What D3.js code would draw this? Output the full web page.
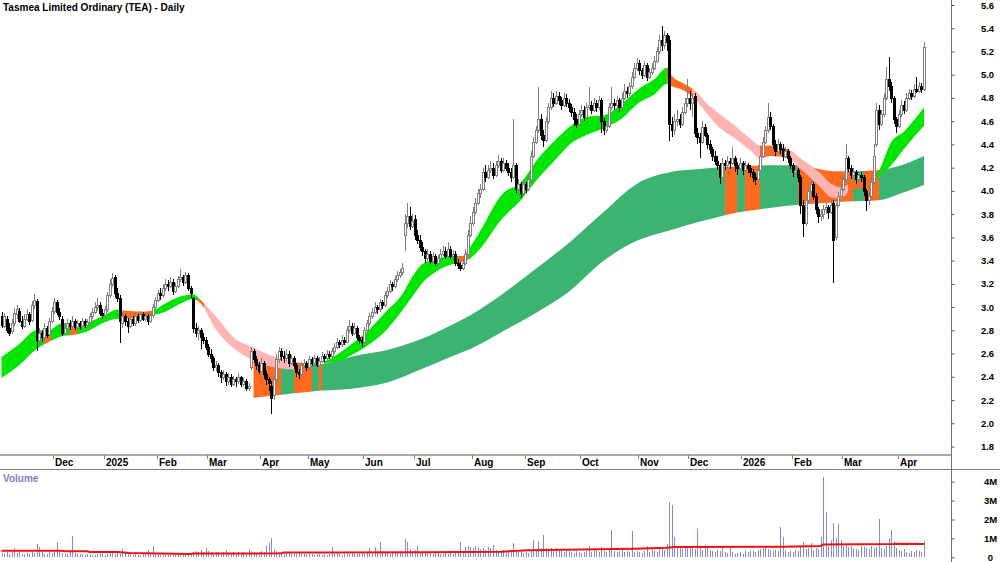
<!DOCTYPE html>
<html><head><meta charset="utf-8">
<script src="https://cdn.jsdelivr.net/npm/d3@7/dist/d3.min.js"></script>
<style>
html,body{margin:0;padding:0;background:#fff;}
svg{display:block;font-family:"Liberation Sans",Arial,sans-serif;}
</style></head><body>
<svg id="chart" width="1000" height="562"></svg>
<script>
// ---------- DATA ----------
const title = "Tasmea Limited Ordinary (TEA) - Daily";
// trading days per month, Nov 2024 .. Apr 2026
const monthDays = [21,20,21,20,21,19,22,20,23,21,22,23,20,21,20,20,22,11];
const monthLabels = ["Dec","2025","Feb","Mar","Apr","May","Jun","Jul","Aug","Sep","Oct","Nov","Dec","2026","Feb","Mar","Apr"];
const priceTicks = [1.8,2.0,2.2,2.4,2.6,2.8,3.0,3.2,3.4,3.6,3.8,4.0,4.2,4.4,4.6,4.8,5.0,5.2,5.4,5.6];
const volTicks = [0,1,2,3,4];
const volTickLabels = ["0","1M","2M","3M","4M"];

const open = [
// Nov 24
2.92,2.84,2.90,2.82,2.79,2.86,2.94,2.97,2.88,2.84,2.90,2.94,2.89,3.02,3.05,2.72,2.78,2.74,2.82,2.77,2.88,
// Dec 24
2.97,3.04,2.96,2.90,2.78,2.82,2.86,2.84,2.88,2.83,2.86,2.84,2.88,2.85,2.87,2.92,2.96,3.00,3.02,2.95,
// Jan 25
2.93,2.98,3.10,3.20,3.26,3.12,3.08,2.86,2.92,2.88,2.84,2.90,2.86,2.92,2.89,2.94,2.90,2.92,2.88,2.93,3.00,
// Feb 25
3.06,3.12,3.10,3.16,3.20,3.18,3.22,3.14,3.18,3.24,3.26,3.22,3.28,3.16,3.08,2.82,2.78,2.80,2.74,2.72,
// Mar 25
2.66,2.60,2.56,2.48,2.50,2.44,2.40,2.42,2.36,2.40,2.34,2.38,2.36,2.40,2.34,2.36,2.30,2.48,2.62,2.55,2.50,
// Apr 25
2.45,2.52,2.42,2.38,2.32,2.24,2.38,2.55,2.62,2.58,2.56,2.60,2.52,2.56,2.50,2.44,2.42,2.50,2.52,
// May 25
2.48,2.55,2.52,2.56,2.50,2.54,2.58,2.56,2.60,2.58,2.62,2.66,2.70,2.68,2.72,2.70,2.80,2.84,2.78,2.82,2.74,2.72,
// Jun 25
2.70,2.80,2.86,2.92,2.96,3.00,2.98,3.04,3.02,3.10,3.14,3.20,3.18,3.24,3.28,3.30,3.62,3.72,3.78,3.70,
// Jul 25
3.76,3.62,3.58,3.52,3.48,3.42,3.46,3.40,3.44,3.38,3.42,3.46,3.48,3.44,3.50,3.44,3.46,3.38,3.36,3.34,3.38,3.46,3.62,
// Aug 25
3.72,3.82,3.90,3.98,4.02,4.16,4.12,4.18,4.20,4.14,4.22,4.26,4.18,4.24,4.20,4.16,4.12,4.22,4.02,4.06,3.98,
// Sep 25
4.06,4.02,4.10,4.30,4.42,4.52,4.62,4.48,4.44,4.60,4.72,4.80,4.76,4.82,4.78,4.74,4.80,4.76,4.72,4.68,4.62,4.58,
// Oct 25
4.66,4.70,4.64,4.72,4.74,4.70,4.76,4.72,4.78,4.60,4.52,4.56,4.72,4.76,4.74,4.78,4.72,4.80,4.86,4.84,4.90,4.98,5.06,
// Nov 25
5.10,5.04,5.00,5.08,4.98,5.02,5.06,5.12,5.20,5.30,5.26,5.34,5.30,4.58,4.52,4.60,4.62,4.58,4.68,4.76,
// Dec 25
4.80,4.76,4.82,4.50,4.46,4.42,4.55,4.48,4.40,4.36,4.30,4.26,4.22,4.12,4.24,4.22,4.26,4.24,4.28,4.22,4.20,
// Jan 26
4.24,4.18,4.22,4.20,4.16,4.12,4.10,4.18,4.30,4.42,4.52,4.64,4.56,4.40,4.34,4.40,4.36,4.30,4.34,4.28,
// Feb 26
4.22,4.16,4.18,4.12,3.88,3.72,3.92,4.00,4.06,3.96,3.84,3.78,3.80,3.84,3.86,3.82,3.90,3.60,3.88,3.96,
// Mar 26
4.02,4.10,4.28,4.20,4.14,4.16,4.10,4.14,4.12,4.00,3.92,3.96,4.08,4.40,4.70,4.58,4.66,4.80,4.96,4.90,4.80,4.62,
// Apr 26
4.56,4.66,4.74,4.70,4.80,4.84,4.82,4.88,4.86,4.90,4.88
];
const high = [
2.96,2.95,2.92,2.86,2.90,2.99,3.02,2.99,2.92,2.94,2.98,2.96,3.05,3.11,3.07,2.82,2.80,2.86,2.84,2.91,3.00,
3.08,3.06,2.99,2.92,2.86,2.90,2.89,2.92,2.90,2.89,2.88,2.91,2.90,2.90,2.95,2.99,3.04,3.08,3.04,2.98,
3.01,3.13,3.24,3.29,3.28,3.16,3.10,2.96,2.94,2.91,2.93,2.92,2.95,2.94,2.97,2.96,2.95,2.94,2.96,3.03,3.09,
3.15,3.16,3.20,3.24,3.23,3.26,3.24,3.21,3.27,3.33,3.28,3.30,3.29,3.18,3.09,2.86,2.84,2.82,2.78,2.74,
2.68,2.64,2.58,2.54,2.52,2.46,2.46,2.44,2.43,2.42,2.41,2.40,2.43,2.41,2.39,2.38,2.35,2.66,2.64,2.58,2.53,
2.56,2.54,2.45,2.40,2.36,2.42,2.60,2.66,2.65,2.62,2.64,2.62,2.59,2.58,2.52,2.47,2.53,2.55,2.54,
2.58,2.57,2.59,2.58,2.57,2.61,2.60,2.63,2.62,2.65,2.69,2.73,2.72,2.76,2.74,2.84,2.89,2.86,2.86,2.84,2.76,2.74,
2.83,2.89,2.95,2.99,3.04,3.02,3.07,3.06,3.13,3.17,3.23,3.22,3.27,3.31,3.33,3.38,3.80,3.90,3.86,3.80,
3.79,3.66,3.62,3.56,3.50,3.50,3.48,3.47,3.46,3.45,3.50,3.53,3.52,3.56,3.53,3.49,3.48,3.41,3.39,3.42,3.50,3.66,3.78,
3.86,3.94,4.02,4.06,4.20,4.22,4.22,4.26,4.24,4.26,4.31,4.28,4.28,4.27,4.24,4.20,4.62,4.24,4.10,4.08,4.10,
4.08,4.14,4.34,4.46,4.56,4.89,4.66,4.52,4.64,4.76,4.86,4.84,4.86,4.85,4.81,4.84,4.83,4.79,4.75,4.71,4.66,4.70,
4.74,4.73,4.76,4.89,4.77,4.80,4.78,4.82,4.80,4.63,4.60,4.76,4.89,4.79,4.82,4.80,4.84,4.92,4.89,4.94,5.02,5.10,5.14,
5.13,5.06,5.12,5.10,5.06,5.10,5.16,5.24,5.34,5.42,5.38,5.36,5.33,4.64,4.66,4.70,4.66,4.72,4.80,4.96,
4.86,4.84,4.84,4.54,4.50,4.60,4.58,4.50,4.44,4.38,4.34,4.30,4.24,4.28,4.27,4.30,4.28,4.38,4.30,4.25,4.28,
4.26,4.26,4.24,4.22,4.19,4.15,4.22,4.34,4.46,4.56,4.76,4.68,4.58,4.44,4.45,4.42,4.40,4.38,4.36,4.30,
4.24,4.22,4.20,4.14,3.92,3.96,4.04,4.10,4.08,3.98,3.86,3.84,3.88,3.90,3.88,3.92,3.92,3.90,3.99,4.06,
4.14,4.40,4.30,4.22,4.20,4.18,4.17,4.16,4.14,4.02,3.99,4.12,4.40,4.76,4.74,4.70,4.84,5.07,5.15,4.94,4.82,4.64,
4.70,4.78,4.77,4.84,4.88,4.87,4.92,4.98,4.94,4.93,5.28
];
const low = [
2.82,2.82,2.78,2.75,2.77,2.84,2.90,2.86,2.81,2.82,2.88,2.85,2.87,2.98,2.62,2.68,2.70,2.72,2.73,2.75,2.86,
2.94,2.93,2.89,2.75,2.76,2.80,2.80,2.82,2.80,2.81,2.80,2.82,2.82,2.83,2.85,2.90,2.94,2.97,2.92,2.90,
2.91,2.96,3.08,3.17,3.08,3.04,2.69,2.82,2.84,2.78,2.82,2.84,2.84,2.86,2.87,2.88,2.88,2.85,2.86,2.91,2.98,
3.04,3.06,3.08,3.14,3.14,3.16,3.10,3.12,3.16,3.22,3.18,3.20,3.14,3.08,2.78,2.74,2.72,2.64,2.68,2.63,
2.57,2.52,2.45,2.45,2.40,2.35,2.37,2.32,2.33,2.31,2.32,2.31,2.34,2.31,2.32,2.28,2.28,2.46,2.52,2.46,2.42,
2.43,2.38,2.33,2.28,2.08,2.20,2.36,2.52,2.54,2.52,2.54,2.48,2.50,2.47,2.40,2.38,2.40,2.47,2.45,
2.46,2.49,2.50,2.48,2.48,2.52,2.53,2.54,2.55,2.56,2.60,2.64,2.65,2.66,2.67,2.69,2.78,2.75,2.76,2.72,2.68,2.66,
2.68,2.78,2.84,2.90,2.94,2.94,2.96,2.98,3.00,3.08,3.12,3.14,3.16,3.22,3.25,3.28,3.48,3.68,3.66,3.68,
3.58,3.54,3.48,3.44,3.38,3.40,3.37,3.38,3.35,3.36,3.40,3.44,3.41,3.42,3.41,3.40,3.35,3.33,3.31,3.32,3.36,3.44,3.60,
3.70,3.80,3.88,3.94,4.00,4.08,4.10,4.15,4.10,4.12,4.20,4.15,4.16,4.17,4.13,4.08,4.10,3.98,3.98,3.94,3.96,
3.98,4.00,4.08,4.28,4.40,4.50,4.44,4.38,4.42,4.58,4.70,4.72,4.74,4.74,4.70,4.72,4.72,4.68,4.64,4.56,4.54,4.56,
4.64,4.60,4.62,4.70,4.66,4.68,4.68,4.70,4.50,4.48,4.50,4.54,4.70,4.70,4.72,4.68,4.70,4.78,4.80,4.82,4.88,4.96,5.03,
5.00,4.96,4.98,4.95,4.96,5.00,5.04,5.10,5.18,5.20,5.22,5.20,4.43,4.46,4.48,4.56,4.54,4.56,4.66,4.72,
4.70,4.64,4.46,4.40,4.28,4.40,4.46,4.36,4.32,4.26,4.22,4.18,4.06,4.10,4.18,4.20,4.19,4.22,4.16,4.14,4.18,
4.14,4.16,4.15,4.12,4.08,4.05,4.08,4.16,4.28,4.40,4.50,4.52,4.36,4.30,4.32,4.32,4.26,4.28,4.24,4.19,
4.12,4.12,4.08,3.80,3.60,3.70,3.90,3.96,3.92,3.80,3.72,3.74,3.76,3.80,3.76,3.80,3.21,3.58,3.86,3.94,
4.00,4.08,4.16,4.10,4.12,4.06,4.08,4.08,3.96,3.83,3.88,3.94,4.06,4.38,4.52,4.56,4.64,4.78,4.86,4.76,4.58,4.50,
4.54,4.64,4.66,4.68,4.78,4.78,4.80,4.84,4.84,4.84,4.86
];
const close = [
2.85,2.92,2.80,2.78,2.86,2.95,2.98,2.88,2.84,2.90,2.94,2.88,3.02,3.06,2.72,2.78,2.74,2.82,2.76,2.88,2.97,
3.04,2.96,2.92,2.78,2.82,2.86,2.84,2.88,2.83,2.86,2.84,2.88,2.85,2.87,2.92,2.96,3.00,3.02,2.95,2.93,
2.98,3.10,3.20,3.25,3.12,3.08,2.88,2.92,2.88,2.84,2.90,2.86,2.92,2.89,2.94,2.90,2.92,2.88,2.93,3.00,3.06,
3.12,3.10,3.16,3.20,3.18,3.22,3.14,3.18,3.24,3.26,3.22,3.28,3.16,3.12,2.82,2.78,2.80,2.74,2.72,2.66,
2.60,2.56,2.48,2.50,2.44,2.40,2.42,2.36,2.40,2.34,2.38,2.36,2.40,2.34,2.36,2.30,2.32,2.62,2.55,2.50,2.45,
2.52,2.42,2.38,2.35,2.22,2.38,2.55,2.62,2.58,2.56,2.60,2.52,2.56,2.50,2.44,2.42,2.50,2.52,2.48,
2.55,2.52,2.56,2.50,2.54,2.58,2.56,2.60,2.58,2.62,2.66,2.70,2.68,2.72,2.70,2.80,2.84,2.78,2.82,2.74,2.72,2.70,
2.80,2.86,2.92,2.96,3.00,2.98,3.04,3.02,3.10,3.14,3.20,3.18,3.24,3.28,3.30,3.34,3.72,3.78,3.70,3.74,
3.62,3.58,3.52,3.48,3.42,3.46,3.40,3.44,3.38,3.42,3.46,3.48,3.44,3.50,3.44,3.46,3.38,3.36,3.34,3.38,3.46,3.62,3.72,
3.82,3.90,3.98,4.02,4.16,4.12,4.18,4.20,4.14,4.22,4.26,4.18,4.24,4.20,4.16,4.12,4.22,4.02,4.06,3.98,4.06,
4.02,4.10,4.30,4.42,4.52,4.62,4.48,4.44,4.60,4.72,4.80,4.76,4.82,4.78,4.74,4.80,4.76,4.72,4.68,4.62,4.58,4.66,
4.70,4.64,4.72,4.74,4.70,4.76,4.72,4.78,4.60,4.52,4.56,4.72,4.76,4.74,4.78,4.72,4.80,4.86,4.84,4.90,4.98,5.06,5.10,
5.04,5.00,5.08,4.98,5.02,5.06,5.12,5.20,5.30,5.26,5.34,5.28,4.58,4.52,4.60,4.62,4.58,4.68,4.76,4.80,
4.76,4.80,4.50,4.46,4.42,4.55,4.48,4.40,4.36,4.30,4.26,4.22,4.12,4.24,4.22,4.26,4.24,4.28,4.22,4.20,4.24,
4.18,4.22,4.20,4.16,4.12,4.10,4.18,4.30,4.42,4.52,4.64,4.56,4.40,4.34,4.40,4.36,4.30,4.34,4.28,4.22,
4.16,4.18,4.12,3.88,3.72,3.92,4.00,4.06,3.96,3.84,3.78,3.80,3.84,3.86,3.82,3.88,3.58,3.88,3.96,4.02,
4.10,4.28,4.20,4.14,4.16,4.10,4.14,4.12,4.00,3.92,3.96,4.08,4.30,4.70,4.58,4.66,4.80,4.96,4.90,4.80,4.62,4.56,
4.66,4.74,4.70,4.80,4.84,4.82,4.88,4.86,4.90,4.88,5.24
];
// volume, millions
const volume = [
0.25,0.2,0.28,0.18,0.3,0.48,0.22,0.26,0.15,0.2,0.25,0.18,0.3,0.22,0.7,0.55,0.28,0.2,0.18,0.26,0.22,
0.3,0.8,0.35,0.25,0.2,0.18,0.3,1.12,0.25,0.2,0.15,0.18,0.12,0.2,0.15,0.1,0.12,0.18,0.22,0.15,
0.12,0.2,0.3,0.25,0.18,0.22,0.2,0.45,0.25,0.2,0.15,0.12,0.18,0.1,0.14,0.2,0.15,0.4,0.18,0.6,0.22,
0.15,0.12,0.18,0.1,0.14,0.12,0.16,0.1,0.13,0.15,0.12,0.1,0.14,0.2,0.3,0.35,0.28,0.4,0.3,0.5,
0.35,0.3,0.25,0.28,0.3,0.22,0.3,0.4,0.2,0.25,0.3,0.22,0.28,0.25,0.3,0.2,0.42,0.35,0.3,0.25,0.28,
0.32,0.3,0.6,0.75,1.0,0.45,0.35,0.3,0.25,0.2,0.28,0.22,0.18,0.2,0.15,0.22,0.18,0.15,0.2,
0.15,0.18,0.12,0.2,0.15,0.1,0.18,0.14,0.2,0.55,0.15,0.22,0.18,0.12,0.2,0.15,0.18,0.22,0.15,0.2,0.18,0.25,
0.2,0.25,0.5,0.3,0.55,0.4,0.8,0.35,0.3,0.25,0.2,0.28,0.3,0.22,0.35,0.3,0.95,0.8,0.45,0.35,
0.4,0.6,0.3,0.25,0.35,0.3,0.25,0.2,0.28,0.22,0.18,0.2,0.25,0.18,0.22,0.2,0.25,0.3,0.8,0.3,0.55,0.6,0.55,
0.5,0.6,0.55,0.45,0.5,0.4,0.55,0.5,0.65,0.4,0.35,0.3,0.4,0.35,0.3,0.3,0.78,0.4,0.3,0.35,0.25,
0.3,0.25,0.35,0.94,0.45,0.87,0.5,1.2,0.5,0.45,0.5,0.45,0.5,0.4,0.35,0.3,0.4,0.35,0.3,0.25,0.35,0.3,
0.25,0.3,0.35,0.58,0.3,0.4,0.35,0.3,0.55,0.35,0.3,0.4,1.47,0.35,0.3,0.35,0.4,0.3,0.35,0.3,1.4,0.3,0.35,
0.3,0.25,0.35,0.6,0.3,0.4,0.35,0.3,0.45,0.55,0.4,0.7,2.9,2.76,1.05,0.6,0.5,0.45,0.6,0.5,
0.55,0.5,0.45,1.49,0.5,0.4,0.65,0.55,0.4,0.35,0.3,0.4,0.35,0.6,0.3,0.25,0.6,0.3,0.2,0.25,0.3,
0.2,0.35,0.3,0.4,0.35,0.3,0.4,0.45,0.5,0.55,0.45,0.4,0.35,0.4,0.35,1.58,1.1,0.4,0.3,0.35,
0.3,0.4,0.35,0.55,0.8,0.45,0.5,0.75,0.4,0.5,0.45,1.05,4.25,2.4,0.6,0.9,1.82,1.0,1.75,0.9,
0.6,0.7,0.55,0.6,0.5,0.45,0.4,0.6,0.55,0.5,0.45,0.6,0.5,0.55,2.05,0.5,0.45,0.6,1.03,1.47,0.85,0.5,
0.4,0.35,0.45,0.3,0.25,0.35,0.3,0.4,0.35,0.3,0.85
];
// volume moving average (millions) read at bar indices
const volMAIdx = [0,24,25,34,35,46,51,63,75,76,111,112,132,169,198,209,230,251,264,267,311,325,326,354,355,366];
const volMA    = [0.34,0.34,0.32,0.32,0.28,0.28,0.23,0.20,0.18,0.20,0.21,0.25,0.26,0.27,0.30,0.37,0.41,0.45,0.50,0.55,0.56,0.60,0.68,0.70,0.72,0.70];

// short-term band (read at bar indices)
const shortIdx = [0,7,14,18,24,28,34,40,46,48,56,60,65,71,76,79,85,93,99,106,112,120,130,133,140,146,153,159,163,167,172,179,183,186,189,199,206,213,219,226,233,239,246,253,259,264,266,271,276,279,284,291,297,301,305,312,317,324,330,333,338,344,348,353,358,366];
const shortTop = [2.57,2.68,2.80,2.79,2.86,2.86,2.87,2.92,2.98,2.97,2.96,2.97,3.03,3.09,3.11,3.06,2.92,2.72,2.66,2.59,2.55,2.50,2.55,2.59,2.70,2.81,2.97,3.11,3.26,3.37,3.41,3.44,3.44,3.52,3.62,3.98,4.07,4.28,4.42,4.56,4.64,4.65,4.75,4.88,4.96,5.06,4.99,4.92,4.85,4.77,4.68,4.56,4.45,4.39,4.39,4.36,4.28,4.17,4.05,4.03,4.08,4.10,4.17,4.42,4.51,4.72];
const shortBot = [2.39,2.50,2.64,2.69,2.75,2.76,2.79,2.86,2.90,2.90,2.91,2.93,2.96,3.03,3.07,3.03,2.81,2.63,2.55,2.49,2.47,2.46,2.52,2.53,2.60,2.68,2.81,2.97,3.09,3.21,3.30,3.37,3.39,3.42,3.48,3.77,3.92,4.11,4.25,4.41,4.49,4.54,4.62,4.76,4.83,4.92,4.90,4.86,4.77,4.69,4.56,4.45,4.35,4.28,4.30,4.28,4.19,4.05,3.94,3.94,4.02,4.02,4.13,4.22,4.36,4.56];
const shortSegStart = [0,17,19.5,27,30,48,60,78,80.5,116,128,181,185,264,274,301,312,336,347];
const shortSegState = ["up","mixed","up","mixed","up","mixed","up","mixed","down","hidden","up","mixed","up","mixed","down","mixed","down","mixed","up"];

// long-term band
const longIdx = [100,113,126,140,153,166,179,186,198,212,225,239,252,265,278,291,304,316,330,337,348,357,366];
const longTop = [2.55,2.53,2.51,2.58,2.63,2.72,2.85,2.93,3.10,3.33,3.55,3.82,4.06,4.16,4.19,4.21,4.22,4.22,4.17,4.17,4.18,4.22,4.30];
const longBot = [2.22,2.25,2.28,2.30,2.35,2.46,2.58,2.64,2.78,2.95,3.13,3.40,3.57,3.66,3.74,3.81,3.85,3.88,3.90,3.91,3.92,3.98,4.05];
const longSegStart = [100,111,116,123,126,127,287,292,295,301,316,338,342,348];
const longSegState = ["mixed","trend","mixed","trend","mixed","trend","mixed","trend","mixed","trend","mixed","trend","mixed","trend"];

// ---------- STYLE ----------
const shortColors = {up:"#00e600", down:"#ffb4b4", mixed:"#ff6a1f", hidden:null};
const longColors = {trend:"#3cb371", mixed:"#ff6a1f"};

// ---------- DRAW ----------
const svg = d3.select("#chart");
const defs = svg.append("defs");
const N = Math.min(open.length, high.length, low.length, close.length, volume.length);
const x = d3.scaleLinear().domain([0, N - 1]).range([1.5, 924]);
const y = d3.scaleLinear().domain([1.8, 5.6]).range([446.5, 5]);
const yv = d3.scaleLinear().domain([0, 4]).range([557.3, 481.7]);
const axisX = 951.5;

svg.append("rect").attr("width",1000).attr("height",562).attr("fill","#fff");

defs.append("clipPath").attr("id","pricePane").append("rect")
  .attr("x",0).attr("y",0).attr("width",951).attr("height",454);
const pane = svg.append("g").attr("clip-path","url(#pricePane)");

function band(idx, top, bot, segStart, segState, colors, name) {
  const pts = idx.map((d,k)=>({i:d, t:top[k], b:bot[k]}));
  const area = d3.area().x(d=>x(d.i)).y0(d=>y(d.b)).y1(d=>y(d.t)).curve(d3.curveMonotoneX);
  const segs = segStart.map((s,k)=>({s, e: k < segStart.length-1 ? segStart[k+1] : N-1, state: segState[k]}));
  const g = pane.append("g");
  segs.forEach((sg,k)=>{
    const col = colors[sg.state];
    if (!col) return;
    const x0 = k === 0 ? Math.floor(x(sg.s)) - 3 : Math.round(x(sg.s));
    const x1 = k === segs.length-1 ? Math.ceil(x(sg.e)) + 2 : Math.round(x(sg.e));
    const id = name + k;
    defs.append("clipPath").attr("id", id).append("rect")
      .attr("x", x0).attr("y", 0).attr("width", x1 - x0).attr("height", 460);
    g.append("path").datum(pts).attr("d", area).attr("fill", col).attr("clip-path", `url(#${id})`);
  });
}
band(longIdx, longTop, longBot, longSegStart, longSegState, longColors, "lb");
band(shortIdx, shortTop, shortBot, shortSegStart, shortSegState, shortColors, "sb");

// candles
const cg = pane.append("g").attr("shape-rendering","crispEdges");
const cd = cg.selectAll("g").data(d3.range(N)).join("g");
const isUp = i => close[i] >= open[i];
cd.append("line")
  .attr("x1", i => Math.round(x(i)) + 0.5).attr("x2", i => Math.round(x(i)) + 0.5)
  .attr("y1", i => y(high[i])).attr("y2", i => y(low[i]))
  .attr("stroke", i => isUp(i) ? "#808080" : "#000").attr("stroke-width",1);
cd.append("rect")
  .attr("x", i => Math.round(x(i)) - 0.5)
  .attr("y", i => Math.round(y(Math.max(open[i], close[i]))) + 0.5)
  .attr("width", 2)
  .attr("height", i => Math.max(1, Math.round(y(Math.min(open[i], close[i]))) - Math.round(y(Math.max(open[i], close[i])))))
  .attr("fill", i => isUp(i) ? "#fff" : "#000")
  .attr("stroke", i => isUp(i) ? "#808080" : "#000").attr("stroke-width",1);

// volume
const vg = svg.append("g").attr("shape-rendering","crispEdges");
vg.selectAll("line").data(d3.range(N)).join("line")
  .attr("x1", i => Math.round(x(i)) + 0.5).attr("x2", i => Math.round(x(i)) + 0.5)
  .attr("y1", yv(0)).attr("y2", i => yv(volume[i]))
  .attr("stroke", "#8a8ad0").attr("stroke-width", 1);
const vmaPts = volMAIdx.map((d,k)=>[d, volMA[k]]);
svg.append("path").datum(vmaPts)
  .attr("d", d3.line().x(d=>x(d[0])).y(d=>yv(d[1])))
  .attr("fill","none").attr("stroke","#f01010").attr("stroke-width",2);

// frame lines
svg.append("line").attr("x1",0).attr("x2",951).attr("y1",455).attr("y2",455)
  .attr("stroke","#a8a8a8").attr("stroke-width",2);
svg.append("line").attr("x1",0).attr("x2",1000).attr("y1",469.5).attr("y2",469.5)
  .attr("stroke","#808080").attr("stroke-width",1);
svg.append("line").attr("x1",axisX).attr("x2",axisX).attr("y1",0).attr("y2",562)
  .attr("stroke","#707070").attr("stroke-width",1);

// month axis
const bounds = d3.cumsum(monthDays).slice(0, monthLabels.length);
const mg = svg.append("g");
mg.selectAll("line").data(bounds).join("line")
  .attr("x1", b => Math.round(x(b - 0.5)) + 0.5).attr("x2", b => Math.round(x(b - 0.5)) + 0.5)
  .attr("y1", 455).attr("y2", 459).attr("stroke","#808080");
mg.selectAll("text").data(bounds).join("text")
  .attr("x", b => Math.round(x(b - 0.5)) + 2).attr("y", 466)
  .attr("font-size", 10).attr("font-weight","bold").attr("fill","#000")
  .text((b,k) => monthLabels[k]);

// price axis
const pa = svg.append("g").attr("transform",`translate(${axisX},0)`)
  .call(d3.axisRight(y).tickValues(priceTicks).tickSize(3).tickFormat(d3.format(".1f")));
pa.select(".domain").remove();
pa.selectAll(".tick line").attr("stroke","#555");
pa.selectAll(".tick text").attr("x",36).attr("text-anchor","middle")
  .attr("font-size",9.5).attr("font-weight","bold").attr("fill","#000")
  .attr("font-family",'"Liberation Sans",Arial,sans-serif');

// volume axis
const va = svg.append("g").attr("transform",`translate(${axisX},0)`)
  .call(d3.axisRight(yv).tickValues(volTicks).tickSize(3).tickFormat((d,k)=>volTickLabels[k]));
va.select(".domain").remove();
va.selectAll(".tick line").attr("stroke","#555");
va.selectAll(".tick text").attr("x",39).attr("text-anchor","middle")
  .attr("font-size",9.5).attr("font-weight","bold").attr("fill","#000")
  .attr("font-family",'"Liberation Sans",Arial,sans-serif');

// titles
svg.append("text").attr("x",3).attr("y",11).attr("font-size",10).attr("font-weight","bold")
  .attr("fill","#000").text(title);
svg.append("text").attr("x",3).attr("y",482).attr("font-size",10).attr("font-weight","bold")
  .attr("fill","#8080c0").text("Volume");
</script>
</body></html>
